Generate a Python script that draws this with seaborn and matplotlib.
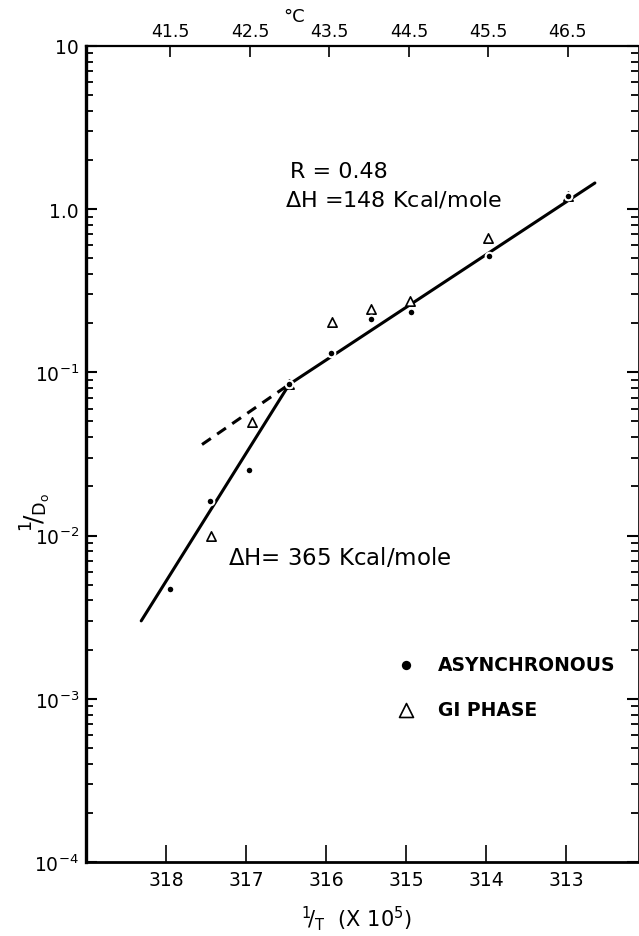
import numpy as np
import pandas as pd
import matplotlib
matplotlib.use('Agg')
import matplotlib.pyplot as plt
import seaborn as sns
from matplotlib.ticker import LogLocator, NullFormatter

# Veriler
async_x = [317.95, 317.45, 316.96, 316.46, 315.94, 315.44, 314.94, 313.96, 312.98]
async_y = [0.0047, 0.0162, 0.0251, 0.0844, 0.131, 0.211, 0.233, 0.515, 1.20]
gi_x = [317.44, 316.93, 316.46, 315.92, 315.44, 314.95, 313.97, 312.98]
gi_y = [0.0099, 0.0493, 0.0844, 0.203, 0.244, 0.273, 0.664, 1.20]

# cizilmis dogrular (uc noktalar)
steep_x = [318.31, 316.46]
steep_y = [0.0030, 0.0844]
shallow_x = [316.46, 312.64]
shallow_y = [0.0844, 1.445]
dash_x = [317.55, 316.46]
dash_y = [0.0361, 0.0844]

bottom_ticks = [318, 317, 316, 315, 314, 313]
top_ticks = [317.95, 316.95, 315.96, 314.96, 313.97, 312.98]
top_labels = ['41.5', '42.5', '43.5', '44.5', '45.5', '46.5']
y_ticks = [1e-4, 1e-3, 1e-2, 1e-1, 1.0, 10.0]
y_labels = [r'$10^{-4}$', r'$10^{-3}$', r'$10^{-2}$', r'$10^{-1}$', '1.0', '10']

sns.set_style('ticks')
plt.rcParams['font.family'] = ['DejaVu Sans']
for key in ['text.color', 'axes.labelcolor', 'xtick.color', 'ytick.color', 'axes.edgecolor']:
    plt.rcParams[key] = 'black'

df_async = pd.DataFrame({'x': async_x, 'y': async_y})
df_gi = pd.DataFrame({'x': gi_x, 'y': gi_y})

fig = plt.figure(figsize=(6.39, 9.37), dpi=100)
ax = fig.add_axes([0.1346, 0.079, 0.864, 0.871])
ax.set_yscale('log')

# dogrular
sns.lineplot(x=steep_x, y=steep_y, ax=ax, color='black', linewidth=2.2, sort=False, zorder=2)
sns.lineplot(x=shallow_x, y=shallow_y, ax=ax, color='black', linewidth=2.2, sort=False, zorder=2)
sns.lineplot(x=dash_x, y=dash_y, ax=ax, color='black', linewidth=2.2, sort=False,
             linestyle=(0, (3.5, 2.5)), zorder=2)

# noktalar (beyaz kenar -> dogruda bosluk)
sns.scatterplot(data=df_gi, x='x', y='y', ax=ax, marker='^', s=45, facecolor='white',
                edgecolor='black', linewidth=1.2, label='GI PHASE', zorder=3)
sns.scatterplot(data=df_async, x='x', y='y', ax=ax, marker='o', s=30, color='black',
                edgecolor='white', linewidth=1.5, label='ASYNCHRONOUS', zorder=4)

ax.set_xlim(319.0, 312.1)
ax.set_ylim(1e-4, 10)

ax.set_xticks(bottom_ticks)
ax.set_xticklabels([str(t) for t in bottom_ticks])
ax.set_yticks(y_ticks)
ax.set_yticklabels(y_labels)
ax.yaxis.set_minor_locator(LogLocator(base=10, subs=np.arange(2, 10), numticks=20))
ax.yaxis.set_minor_formatter(NullFormatter())

ax.tick_params(axis='x', which='major', direction='in', length=12, width=1.2,
               labelsize=13.5, pad=6, top=False)
ax.tick_params(axis='y', which='major', direction='in', length=8, width=1.5,
               labelsize=13.5, pad=5, right=True)
ax.tick_params(axis='y', which='minor', direction='in', length=5, width=1.3, right=True)

for side, lw in [('left', 2.4), ('bottom', 2.0), ('top', 1.6), ('right', 0.6)]:
    ax.spines[side].set_linewidth(lw)

ax.set_xlabel(r'$^{1}\!/_{\mathrm{T}}$  (X 10$^{5}$)', fontsize=15)
ax.xaxis.set_label_coords(0.49, -0.05)
ax.set_ylabel(r'$^{1}\!/_{\mathrm{D_o}}$', fontsize=18)
ax.yaxis.set_label_coords(-0.06, 0.43)

# ust eksen (santigrat)
top = ax.twiny()
top.set_xlim(ax.get_xlim())
top.set_xticks(top_ticks)
top.set_xticklabels(top_labels)
top.tick_params(axis='x', direction='in', length=8, width=1.2, labelsize=12.5, pad=4)
top.set_xlabel('°C', fontsize=13)
top.xaxis.set_label_coords(0.376, 1.03)
for s in top.spines.values():
    s.set_visible(False)

# aciklamalar
ax.text(316.45, 1.71, 'R = 0.48', fontsize=16, va='center', ha='left')
ax.text(316.51, 1.15, r'$\Delta$H =148 Kcal/mole', fontsize=16, va='center', ha='left')
ax.text(317.23, 0.00743, r'$\Delta$H= 365 Kcal/mole', fontsize=16.5, va='center', ha='left')

handles, labels = ax.get_legend_handles_labels()
order = [labels.index('ASYNCHRONOUS'), labels.index('GI PHASE')]
leg = ax.legend([handles[i] for i in order], [labels[i] for i in order],
                loc='upper left', bbox_to_anchor=(0.515, 0.274), frameon=False,
                markerscale=1.5, handletextpad=0.7, labelspacing=1.35,
                prop={'size': 13.5, 'weight': 'bold'})

plt.savefig('out.png', dpi=100)
plt.close()
